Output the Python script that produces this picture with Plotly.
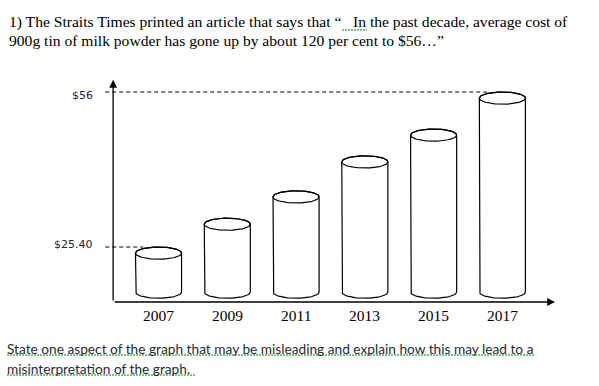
import numpy as np
import plotly.graph_objects as go

# ---------------- data ----------------
years = [2007, 2009, 2011, 2013, 2015, 2017]
year_labels = ["2007", "2009", "2011", "2013", "2015", "2017"]
costs = [25.40, 31.1, 36.5, 43.4, 48.7, 56.0]
marked_values = [56.0, 25.40]
marked_labels = ["$56", "$25.40"]

title_left = "1) The Straits Times printed an article that says that \u201c"
title_right = "In the past decade, average cost of"
title_line2 = "900g tin of milk powder has gone up by about 120 per cent to $56\u2026\u201d"
question_lines = [
    "State one aspect of the graph that may be misleading and explain how this may lead to a",
    "misinterpretation of the graph.",
]

# ---------------- layout constants ----------------
W, H = 599, 386
X_RANGE = [2002.39, 2019.81]
Y_RANGE = [-2.04, 74.17]
AXIS_X = 2005.68      # vertical axis position (years)
AXIS_Y = 14.54        # horizontal axis position (dollars)
Y_TIP = 58.4
X_TIP = 2018.53
BASE = 16.5           # centre of the bottom ellipse of each cylinder
HALF_W = 0.67         # cylinder half width (years)
ELL_H = 1.2           # ellipse half height (dollars)
LW = 1.2


def px(x):
    return x / W


def py(y):
    return 1 - y / H


fig = go.Figure()

# cylinder bodies
bx, by, ex, ey = [], [], [], []
for yr, v in zip(years, costs):
    c = v - ELL_H
    th_b = np.linspace(np.pi, 2 * np.pi, 40)
    th_t = np.linspace(0, np.pi, 40)
    xs = [yr - HALF_W, yr - HALF_W]
    ys = [c, BASE]
    xs += list(yr + HALF_W * np.cos(th_b))
    ys += list(BASE + ELL_H * np.sin(th_b))
    xs += [yr + HALF_W]
    ys += [c]
    xs += list(yr + HALF_W * np.cos(th_t))
    ys += list(c + ELL_H * np.sin(th_t))
    bx += xs + [None]
    by += ys + [None]
    th = np.linspace(0, 2 * np.pi, 80)
    ex += list(yr + HALF_W * np.cos(th)) + [None]
    ey += list(c + ELL_H * np.sin(th)) + [None]

fig.add_trace(go.Scatter(x=bx, y=by, mode="lines", fill="toself",
                         fillcolor="white", line=dict(color="black", width=LW),
                         hoverinfo="skip", showlegend=False))
fig.add_trace(go.Scatter(x=ex, y=ey, mode="lines",
                         line=dict(color="black", width=LW),
                         hoverinfo="skip", showlegend=False))

# dashed reference lines
dx, dy = [], []
for v in marked_values:
    yr = years[costs.index(v)]
    dx += [AXIS_X - 0.23, yr - 0.45, None]
    dy += [v, v, None]
fig.add_trace(go.Scatter(x=dx, y=dy, mode="lines",
                         line=dict(color="black", width=1, dash="4px,3px"),
                         hoverinfo="skip", showlegend=False))

annotations = []
# axes with arrows
annotations.append(dict(x=AXIS_X, y=Y_TIP, ax=AXIS_X, ay=AXIS_Y, xref="x", yref="y",
                        axref="x", ayref="y", text="", showarrow=True, arrowhead=2,
                        arrowsize=1.2, arrowwidth=1.3, arrowcolor="black"))
annotations.append(dict(x=X_TIP, y=AXIS_Y, ax=AXIS_X, ay=AXIS_Y, xref="x", yref="y",
                        axref="x", ayref="y", text="", showarrow=True, arrowhead=2,
                        arrowsize=1.2, arrowwidth=1.3, arrowcolor="black"))

# year labels
for yr, lab in zip(years, year_labels):
    annotations.append(dict(x=yr, y=AXIS_Y, xref="x", yref="y", text=lab,
                            showarrow=False, yanchor="middle", yshift=-13,
                            font=dict(family="Liberation Serif", size=15.5, color="black")))

# dollar labels
label_shift = [-3, 3]
for v, lab, s in zip(marked_values, marked_labels, label_shift):
    annotations.append(dict(x=AXIS_X, y=v, xref="x", yref="y", text=lab,
                            showarrow=False, xanchor="right", xshift=-18,
                            yanchor="middle", yshift=s,
                            font=dict(family="DejaVu Sans", size=11, color="#1c2433")))

# texts
tfont = dict(family="Liberation Serif", size=15.6, color="black")
annotations.append(dict(x=px(7), y=py(22), xref="paper", yref="paper", text=title_left,
                        showarrow=False, xanchor="left", yanchor="middle", font=tfont))
annotations.append(dict(x=px(351), y=py(22), xref="paper", yref="paper", text=title_right,
                        showarrow=False, xanchor="left", yanchor="middle", font=tfont))
annotations.append(dict(x=px(7), y=py(40), xref="paper", yref="paper", text=title_line2,
                        showarrow=False, xanchor="left", yanchor="middle", font=tfont))

q_y = [348, 368]
for line, yy in zip(question_lines, q_y):
    annotations.append(dict(x=px(5), y=py(yy), xref="paper", yref="paper",
                            text=line, showarrow=False, xanchor="left", yanchor="middle",
                            font=dict(family="Lato", size=13.7, color="#262b33")))

# spell-check style green underlines
green = "#49b849"
shapes = []
for (x0, x1, yy) in [(342, 367, 30), (7, 535, 355), (7, 196, 375)]:
    shapes.append(dict(type="line", xref="paper", yref="paper",
                       x0=px(x0), x1=px(x1), y0=py(yy), y1=py(yy),
                       line=dict(color=green, width=1.5, dash="2px,1px")))

fig.update_layout(
    width=W, height=H, autosize=False,
    margin=dict(l=0, r=0, t=0, b=0),
    paper_bgcolor="white", plot_bgcolor="white",
    xaxis=dict(range=X_RANGE, visible=False, fixedrange=True),
    yaxis=dict(range=Y_RANGE, visible=False, fixedrange=True),
    annotations=annotations,
    shapes=shapes,
    showlegend=False,
)

fig.write_html("out.html",
               config={"displayModeBar": False},
               post_script="document.body.style.margin='0';document.body.style.padding='0';")
